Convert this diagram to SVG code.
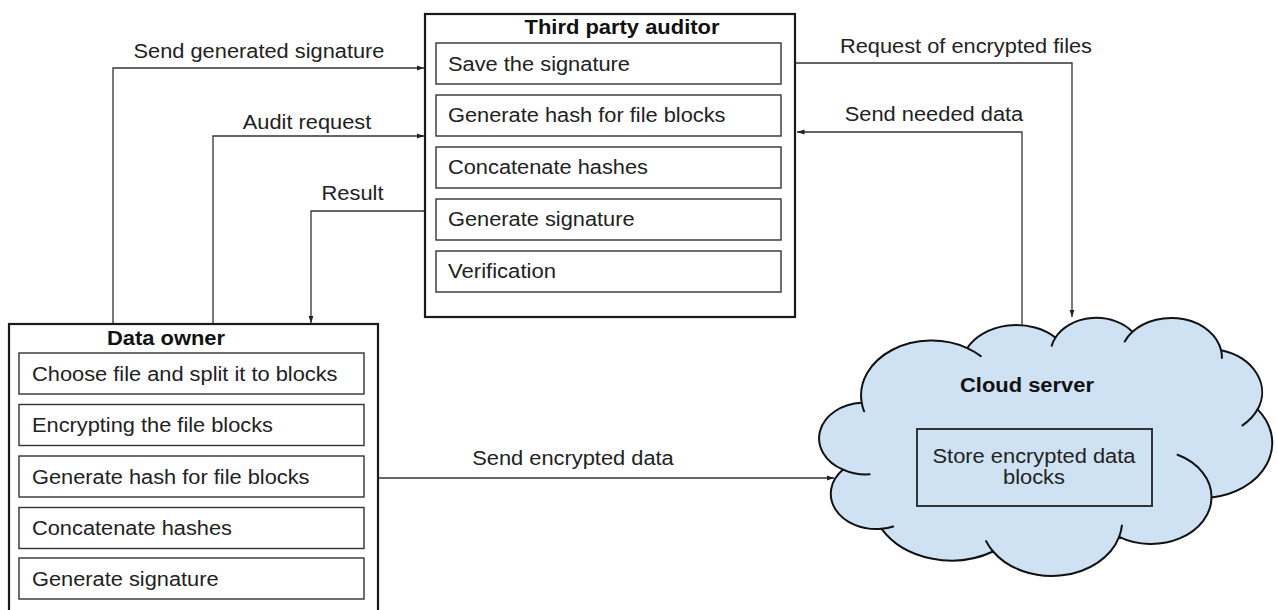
<svg xmlns="http://www.w3.org/2000/svg" width="1278" height="610" viewBox="0 0 1278 610">
  <style>
    .bg { fill: #ffffff; }
    .outer { fill: #ffffff; stroke: #1a1a1a; stroke-width: 2.2; }
    .step { fill: #ffffff; stroke: #333333; stroke-width: 1.4; }
    .txt { font-family: "Liberation Sans", Arial, sans-serif; font-size: 19.5px; fill: #222222; }
    .ttl { font-family: "Liberation Sans", Arial, sans-serif; font-size: 19.5px; font-weight: bold; fill: #111111; }
    .mid { text-anchor: middle; }
    .conn { fill: none; stroke: #333333; stroke-width: 1.3; }
    .cloud { fill: #cfe2f3; stroke: #111111; stroke-width: 2; stroke-linejoin: round; }
    .cloud-inner { fill: none; stroke: #111111; stroke-width: 2; stroke-linecap: round; }
    .store { fill: none; stroke: #333333; stroke-width: 2; }
  </style>
  <defs>
    <marker id="arrow" markerUnits="userSpaceOnUse" markerWidth="8" markerHeight="6" refX="7.5" refY="2.6" orient="auto">
      <path d="M0,0 L7.5,2.6 L0,5.2 z" fill="#222222"/>
    </marker>
  </defs>

  <rect class="bg" x="0" y="0" width="1278" height="610"/>

  <!-- Connectors -->
  <g id="connectors">
    <path class="conn" d="M113 324 V68 H424" marker-end="url(#arrow)"/>
    <path class="conn" d="M213 324 V136 H424" marker-end="url(#arrow)"/>
    <path class="conn" d="M425 211 H311 V323" marker-end="url(#arrow)"/>
    <path class="conn" d="M795 63 H1072 V317" marker-end="url(#arrow)"/>
    <path class="conn" d="M1022 325 V132 H797" marker-end="url(#arrow)"/>
    <path class="conn" d="M378 478 H834" marker-end="url(#arrow)"/>
    <text class="txt mid" x="259" y="58" textLength="251" lengthAdjust="spacingAndGlyphs">Send generated signature</text>
    <text class="txt mid" x="307" y="129" textLength="128.5" lengthAdjust="spacingAndGlyphs">Audit request</text>
    <text class="txt mid" x="352.5" y="200" textLength="62" lengthAdjust="spacingAndGlyphs">Result</text>
    <text class="txt mid" x="966" y="53" textLength="252" lengthAdjust="spacingAndGlyphs">Request of encrypted files</text>
    <text class="txt mid" x="934" y="121" textLength="178.5" lengthAdjust="spacingAndGlyphs">Send needed data</text>
    <text class="txt mid" x="573" y="465" textLength="201.5" lengthAdjust="spacingAndGlyphs">Send encrypted data</text>
  </g>

  <!-- Third party auditor -->
  <g id="third-party-auditor">
    <rect class="outer" x="425" y="14" width="370" height="303"/>
    <text class="ttl mid" x="622" y="34" textLength="195" lengthAdjust="spacingAndGlyphs">Third party auditor</text>
    <rect class="step" x="436" y="43" width="345" height="41"/>
    <text class="txt" x="448" y="71" textLength="182" lengthAdjust="spacingAndGlyphs">Save the signature</text>
    <rect class="step" x="436" y="95" width="345" height="41"/>
    <text class="txt" x="448" y="122" textLength="277.5" lengthAdjust="spacingAndGlyphs">Generate hash for file blocks</text>
    <rect class="step" x="436" y="147" width="345" height="41"/>
    <text class="txt" x="448" y="174" textLength="200" lengthAdjust="spacingAndGlyphs">Concatenate hashes</text>
    <rect class="step" x="436" y="199" width="345" height="41"/>
    <text class="txt" x="448" y="226" textLength="186.6" lengthAdjust="spacingAndGlyphs">Generate signature</text>
    <rect class="step" x="436" y="251" width="345" height="41"/>
    <text class="txt" x="448" y="278" textLength="108" lengthAdjust="spacingAndGlyphs">Verification</text>
  </g>

  <!-- Data owner -->
  <g id="data-owner">
    <rect class="outer" x="9" y="324" width="369" height="295"/>
    <text class="ttl mid" x="166" y="345" textLength="118" lengthAdjust="spacingAndGlyphs">Data owner</text>
    <rect class="step" x="19" y="353" width="345" height="41"/>
    <text class="txt" x="32" y="381" textLength="305.5" lengthAdjust="spacingAndGlyphs">Choose file and split it to blocks</text>
    <rect class="step" x="19" y="404.5" width="345" height="41"/>
    <text class="txt" x="32" y="432" textLength="241" lengthAdjust="spacingAndGlyphs">Encrypting the file blocks</text>
    <rect class="step" x="19" y="456" width="345" height="41"/>
    <text class="txt" x="32" y="483.5" textLength="277.5" lengthAdjust="spacingAndGlyphs">Generate hash for file blocks</text>
    <rect class="step" x="19" y="507.5" width="345" height="41"/>
    <text class="txt" x="32" y="535" textLength="200" lengthAdjust="spacingAndGlyphs">Concatenate hashes</text>
    <rect class="step" x="19" y="558" width="345" height="41"/>
    <text class="txt" x="32" y="585.5" textLength="186.6" lengthAdjust="spacingAndGlyphs">Generate signature</text>
  </g>

  <!-- Cloud server -->
  <g id="cloud-server">
    <path class="cloud" d="M861.72 402.82
      A70.50 54.88 0 0 1 967.23 348.08
      A55.68 43.40 0 0 1 1055.47 337.52
      A45.57 35.50 0 0 1 1132.49 331.84
      A50.71 39.38 0 0 1 1221.07 350.33
      A55.68 43.43 0 0 1 1257.62 409.35
      A70.73 55.06 0 0 1 1211.53 497.40
      A60.40 46.98 0 0 1 1119.15 536.87
      A70.49 55.03 0 0 1 993.09 551.52
      A80.60 62.96 0 0 1 881.64 528.85
      A45.52 35.34 0 0 1 843.12 469.58
      A45.36 35.50 0 0 1 861.72 402.82 Z"/>
    <path class="cloud-inner" d="M869.56 474.34 A45.36 35.50 0 0 1 843.12 469.58
      M893.21 526.57 A45.52 35.34 0 0 1 881.64 528.85
      M993.09 551.52 A70.49 55.03 0 0 1 986.11 541.12
      M1121.93 525.47 A70.49 55.03 0 0 1 1119.15 536.87
      M1177.59 454.78 A60.40 46.98 0 0 1 1211.53 497.40
      M1257.62 409.35 A55.68 43.43 0 0 1 1242.50 425.34
      M1221.07 350.33 A50.71 39.38 0 0 1 1221.87 357.88
      M1124.74 341.47 A50.71 39.38 0 0 1 1132.49 331.84
      M1051.72 345.82 A45.57 35.50 0 0 1 1055.47 337.52
      M967.23 348.08 A70.50 54.88 0 0 1 980.78 356.12
      M864.08 411.29 A70.50 54.88 0 0 1 861.72 402.82"/>
    <text class="ttl mid" x="1027" y="391.5" textLength="134" lengthAdjust="spacingAndGlyphs">Cloud server</text>
    <rect class="store" x="917" y="429" width="235" height="77"/>
    <text class="txt mid" x="1034" y="463" textLength="203" lengthAdjust="spacingAndGlyphs">Store encrypted data</text>
    <text class="txt mid" x="1034" y="484" textLength="62" lengthAdjust="spacingAndGlyphs">blocks</text>
  </g>
</svg>
